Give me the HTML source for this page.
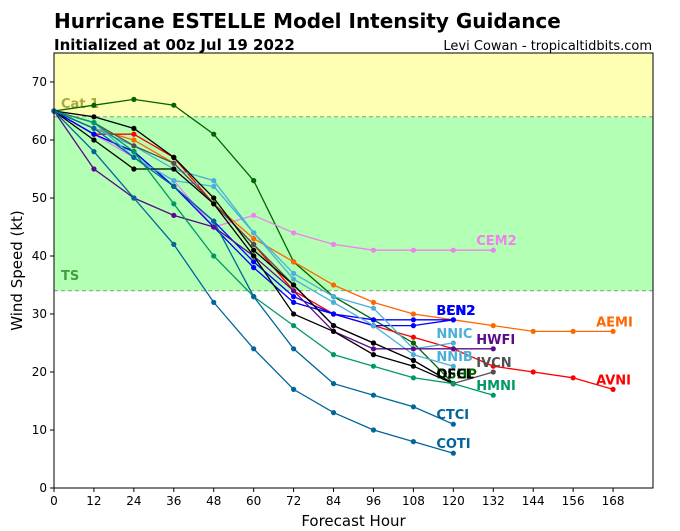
<!DOCTYPE html>
<html><head><meta charset="utf-8"><style>
body{margin:0;background:#fff;width:680px;height:531px;overflow:hidden;font-family:"DejaVu Sans","Liberation Sans",sans-serif}
svg{display:block}
</style></head><body>
<svg id="chart" width="680" height="531" xmlns="http://www.w3.org/2000/svg">
<text x="54" y="28" font-size="20" font-weight="bold" fill="#000">Hurricane ESTELLE Model Intensity Guidance</text>
<text x="54" y="50" font-size="15" font-weight="bold" fill="#000">Initialized at 00z Jul 19 2022</text>
<text x="652" y="50" font-size="13" text-anchor="end" fill="#000">Levi Cowan - tropicaltidbits.com</text>
<g id="plot"></g>
</svg>
<script>
const hours=[0,12,24,36,48,60,72,84,96,108,120,132,144,156,168];
const xTicks=[0,12,24,36,48,60,72,84,96,108,120,132,144,156,168];
const yTicks=[0,10,20,30,40,50,60,70];
const modelNames=["DSHP","CEM2","AEMI","AVNI","BEN2","BCN2","NNIC","NNIB","HWFI","IVCN","OFCL","OFCI","HMNI","CTCI","COTI"];
const modelColors=["#006400","#ee82ee","#ff6600","#ff0000","#0000ff","#0000ff","#4ab0d8","#4ab0d8","#5a0a8a","#505050","#000000","#000000","#009966","#006699","#006699"];
const vDSHP=[65,66,67,66,61,53,39,33,29,25,18];
const vCEM2=[65,61,57,53,45,47,44,42,41,41,41,41];
const vAEMI=[65,62,60,56,49,43,39,35,32,30,29,28,27,27,27];
const vAVNI=[65,61,61,57,49,42,34,30,28,26,24,21,20,19,17];
const vBEN2=[65,61,58,52,46,39,33,30,29,29,29];
const vBCN2=[65,61,58,52,45,38,32,30,28,28,29];
const vNNIC=[65,62,59,55,53,44,37,33,31,24,25];
const vNNIB=[65,63,57,53,52,44,36,32,28,23,21];
const vHWFI=[65,55,50,47,45,40,34,27,24,24,24,24];
const vIVCN=[65,63,59,56,49,42,35,28,25,22,18,20];
const vOFCL=[65,64,62,57,50,41,35,28,25,22,18];
const vOFCI=[65,60,55,55,49,40,30,27,23,21,18];
const vHMNI=[65,63,58,49,40,33,28,23,21,19,18,16];
const vCTCI=[65,62,57,52,46,33,24,18,16,14,11];
const vCOTI=[65,58,50,42,32,24,17,13,10,8,6];
const series=[vDSHP,vCEM2,vAEMI,vAVNI,vBEN2,vBCN2,vNNIC,vNNIB,vHWFI,vIVCN,vOFCL,vOFCI,vHMNI,vCTCI,vCOTI];

const NS="http://www.w3.org/2000/svg";
const X0=54,X1=653,Y0=488,Y1=53,XMAX=180,YMAX=75;
const xs=h=>X0+(X1-X0)*h/XMAX;
const ys=v=>Y0-(Y0-Y1)*v/YMAX;
const g=document.getElementById('plot');
function mk(t,a){const e=document.createElementNS(NS,t);for(const k in a)e.setAttribute(k,a[k]);g.appendChild(e);return e;}

let e;
e=mk('rect',{x:X0,y:Y1,width:X1-X0,height:ys(64)-Y1,fill:'#ffffb3'});


e=mk('rect',{x:X0,y:ys(64),width:X1-X0,height:ys(34)-ys(64),fill:'#b3ffb3'});


[64,34].forEach(v=>{e=mk('line',{x1:X0,x2:X1,y1:ys(v),y2:ys(v),stroke:'#80a080','stroke-dasharray':'4,3','stroke-width':1});

});
e=mk('text',{x:61,y:ys(64)-9,'font-size':13,'font-weight':'bold',fill:'#a8a840'});e.textContent='Cat 1';


e=mk('text',{x:61,y:ys(34)-11,'font-size':13,'font-weight':'bold',fill:'#40a040'});e.textContent='TS';



series.forEach((s,i)=>{
  const pts=s.map((v,j)=>xs(hours[j])+','+ys(v)).join(' ');
  e=mk('polyline',{points:pts,fill:'none',stroke:modelColors[i],'stroke-width':1.3});
  
  
  s.forEach((v,j)=>{e=mk('circle',{cx:xs(hours[j]),cy:ys(v),r:2.6,fill:modelColors[i]});
    
    });
});
series.forEach((s,i)=>{
  const j=s.length-1;
  e=mk('text',{x:xs(hours[j])-17,y:ys(s[j])-5,'font-size':13,'font-weight':'bold',fill:modelColors[i]});
  e.textContent=modelNames[i];
  
  
});

e=mk('rect',{x:X0,y:Y1,width:X1-X0,height:Y0-Y1,fill:'none',stroke:'#000','stroke-width':1});


xTicks.forEach(t=>{mk('line',{x1:xs(t),x2:xs(t),y1:Y0,y2:Y0+4,stroke:'#000'});
  e=mk('text',{x:xs(t),y:Y0+17,'font-size':12,'text-anchor':'middle'});e.textContent=t;
  
  });
yTicks.forEach(t=>{mk('line',{x1:X0-4,x2:X0,y1:ys(t),y2:ys(t),stroke:'#000'});
  e=mk('text',{x:X0-7,y:ys(t)+4,'font-size':12,'text-anchor':'end'});e.textContent=t;
  
  });
e=mk('text',{x:(X0+X1)/2,y:526,'font-size':15,'text-anchor':'middle'});e.textContent='Forecast Hour';


e=mk('text',{x:22,y:(Y0+Y1)/2,'font-size':15,'text-anchor':'middle',transform:'rotate(-90 22 '+((Y0+Y1)/2)+')'});e.textContent='Wind Speed (kt)';


</script>
</body></html>
